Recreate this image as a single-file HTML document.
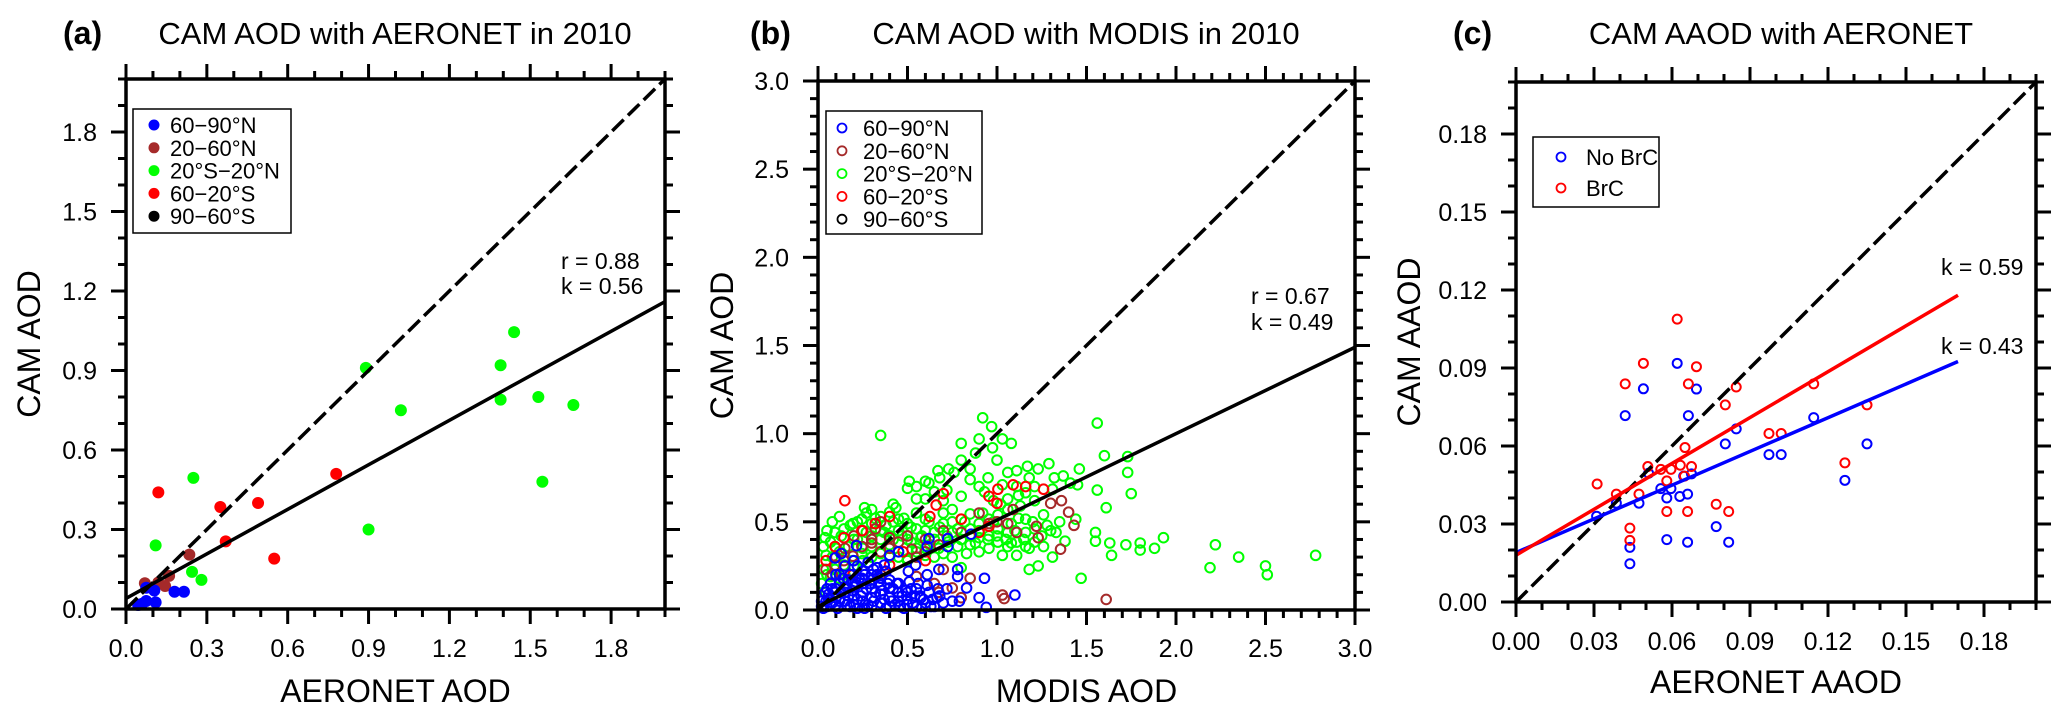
<!DOCTYPE html>
<html><head><meta charset="utf-8"><style>
html,body{margin:0;padding:0;background:#fff;}
svg{display:block;font-family:"Liberation Sans",Arial,sans-serif;}
</style></head><body>
<svg id="root" width="2067" height="720" viewBox="0 0 2067 720" xmlns="http://www.w3.org/2000/svg"></svg>
<script>
// ---------- Panel (a) data ----------
const aBlueX=[0.18,0.215,0.105,0.075,0.11,0.075,0.045,0.06];
const aBlueY=[0.065,0.065,0.07,0.08,0.025,0.03,0.015,0.02];
const aBrownX=[0.235,0.16,0.145,0.07,0.12];
const aBrownY=[0.205,0.125,0.087,0.097,0.1];
const aGreenX=[0.89,1.02,1.39,1.44,1.39,1.53,1.66,1.545,0.90,0.25,0.11,0.245,0.28];
const aGreenY=[0.91,0.75,0.92,1.045,0.79,0.80,0.77,0.48,0.30,0.495,0.24,0.14,0.11];
const aRedX=[0.12,0.35,0.49,0.78,0.37,0.55];
const aRedY=[0.44,0.385,0.40,0.51,0.255,0.19];
const aFit=[0.04,1.16]; // y at x=0 and x=2.0
const aTicks=["0.0","0.3","0.6","0.9","1.2","1.5","1.8"];
// ---------- Panel (b) data ----------
const bGreenX=[0.35,0.92,0.97,1.56,1.60,1.73,1.73,1.75,1.56,1.61,1.46,1.45,1.44,1.55,1.55,1.63,1.64,1.72,1.80,1.80,1.88,1.93,2.22,2.19,2.35,2.50,2.51,2.78,1.47,1.23,1.18,1.31,1.38,1.29,1.23,1.17,1.11,1.06,1.03,1.08,1.03,0.975,0.90,0.88,0.80,0.80,0.76,0.73,0.67,0.60,0.51,0.50,0.55,0.60,0.435,0.26,0.12,0.04,0.03,0.85,0.93,0.80,1.31,1.32,1.37,1.41,1.21,1.13,1.06,1.08,1.16,1.21,1.28,1.33,1.16,1.11,1.06,1.005,0.955,0.90,0.85,0.80,0.75,0.70,0.65,0.83,0.80,0.75,0.70,0.65,0.60,0.55,0.50,0.45,0.40,0.35,0.30,0.245,0.195,0.145,0.095,0.07,0.045,0.03,0.02,0.12,0.17,0.22,0.27,0.32,0.37,0.42,0.47,0.52,0.575,0.625,0.675,0.725,0.78,0.85,0.90,0.955,1.005,1.06,0.90,0.85,0.955,1.005,1.06,1.11,1.16,1.21,1.26,1.21,1.26,1.16,1.11,1.03,0.60,0.55,0.50,0.45,0.40,0.35,0.30,0.245,0.195,0.145,0.095,0.07,0.12,0.045,
0.05,0.08,0.1,0.13,0.15,0.18,0.2,0.22,0.25,0.27,0.3,0.32,0.35,0.38,0.4,0.42,0.45,0.48,0.5,0.52,0.55,0.58,0.6,0.62,0.65,0.68,0.7,0.72,0.75,0.78,0.8,0.82,0.85,0.88,0.9,0.92,0.95,0.98,1.0,1.02,1.05,1.08,1.1,1.12,1.15,1.18,1.2,1.25,1.3,1.35,0.15,0.2,0.25,0.3,0.35,0.4,0.45,0.5,0.55,0.6,0.65,0.7,0.75,0.1,0.05,0.08,0.3,0.42,0.62,0.55,0.68,0.72,0.85,0.95,1.0,0.9,0.98,1.12,1.18];
const bGreenY=[0.99,1.09,1.04,1.06,0.875,0.87,0.78,0.66,0.68,0.58,0.80,0.71,0.515,0.44,0.39,0.38,0.31,0.37,0.38,0.34,0.35,0.41,0.37,0.24,0.30,0.25,0.20,0.31,0.18,0.25,0.23,0.30,0.39,0.83,0.80,0.815,0.79,0.78,0.71,0.945,0.97,0.92,0.97,0.89,0.945,0.85,0.78,0.80,0.79,0.73,0.73,0.69,0.63,0.63,0.58,0.58,0.53,0.41,0.36,0.74,0.67,0.645,0.685,0.75,0.76,0.72,0.62,0.59,0.57,0.49,0.515,0.46,0.48,0.44,0.44,0.385,0.36,0.385,0.35,0.41,0.46,0.515,0.57,0.62,0.67,0.32,0.24,0.44,0.49,0.44,0.515,0.46,0.49,0.515,0.555,0.53,0.49,0.515,0.49,0.46,0.44,0.385,0.31,0.23,0.15,0.33,0.36,0.40,0.44,0.46,0.44,0.40,0.42,0.385,0.41,0.37,0.35,0.385,0.36,0.37,0.33,0.42,0.46,0.44,0.49,0.545,0.515,0.54,0.63,0.70,0.665,0.70,0.54,0.385,0.36,0.36,0.31,0.31,0.31,0.33,0.29,0.33,0.37,0.40,0.36,0.32,0.28,0.255,0.23,0.19,0.18,0.10,
0.45,0.5,0.35,0.42,0.3,0.48,0.4,0.5,0.35,0.55,0.42,0.52,0.45,0.48,0.42,0.5,0.45,0.52,0.4,0.47,0.55,0.42,0.45,0.5,0.4,0.47,0.55,0.42,0.5,0.46,0.4,0.5,0.42,0.38,0.45,0.55,0.4,0.5,0.42,0.6,0.4,0.38,0.45,0.52,0.4,0.35,0.5,0.42,0.45,0.5,0.2,0.25,0.28,0.3,0.32,0.3,0.3,0.28,0.35,0.35,0.3,0.32,0.3,0.25,0.2,0.3,0.57,0.6,0.72,0.7,0.75,0.68,0.8,0.75,0.85,0.7,0.62,0.65,0.75];
const bBrownX=[1.36,1.40,1.43,1.355,1.30,1.22,1.23,1.09,1.06,1.11,1.61,1.03,1.04,0.955,0.80,0.675,0.60,0.525,0.45,0.40,0.35,0.32,0.30,0.245,0.195,0.145,0.095,0.045,0.70,0.75,0.65,0.55,0.45,0.35,0.85,0.80,0.675,0.1,0.2,0.25,0.3,0.4,0.5,0.55,0.6,0.7,0.9,1.0,0.35,0.15,0.08];
const bBrownY=[0.62,0.555,0.48,0.345,0.605,0.475,0.41,0.57,0.49,0.44,0.06,0.085,0.065,0.49,0.44,0.37,0.33,0.345,0.385,0.41,0.33,0.46,0.40,0.36,0.305,0.28,0.255,0.23,0.23,0.125,0.15,0.19,0.15,0.20,0.18,0.07,0.10,0.3,0.42,0.45,0.38,0.35,0.42,0.3,0.4,0.45,0.55,0.5,0.5,0.35,0.2];
const bRedX=[0.15,1.26,1.16,1.09,1.005,1.00,0.955,0.70,0.66,0.625,0.955,0.90,0.80,0.40,0.32,0.245,0.145,0.095,0.475,0.60,0.40,0.045,0.195];
const bRedY=[0.62,0.685,0.70,0.71,0.685,0.605,0.645,0.66,0.595,0.53,0.475,0.44,0.515,0.53,0.49,0.45,0.41,0.36,0.33,0.28,0.255,0.28,0.20];
const bBlueX=[0.855,0.725,0.62,0.725,0.61,0.545,0.505,0.40,0.45,0.37,0.215,0.13,0.095,0.93,0.90,0.94,1.10,0.83,0.78,0.78,0.675,0.61,0.75,0.79,0.665,0.575,0.50,0.45,0.40,0.35,0.30,0.245,0.195,0.145,0.095,0.045,0.05,0.1,0.1,0.15,0.15,0.2,0.2,0.2,0.25,0.25,0.25,0.25,0.3,0.3,0.3,0.3,0.35,0.35,0.35,0.4,0.4,0.4,0.45,0.45,0.5,0.5,0.55,0.55,0.6,0.65,0.7,0.12,0.18,0.22,0.28,0.33,0.38,0.06,0.08,0.12,0.17,0.03,0.22,0.38,0.48,0.58,
0.02,0.04,0.07,0.1,0.12,0.14,0.17,0.18,0.22,0.23,0.27,0.28,0.32,0.33,0.37,0.42,0.43,0.47,0.52,0.53,0.57,0.62,0.63,0.68,0.72,0.05,0.08,0.13,0.16,0.19,0.24,0.26,0.29,0.31,0.34,0.36,0.39,0.41,0.44,0.46,0.49,0.51,0.54,0.56,0.59,0.61,0.64,0.67,0.02,0.06,0.11,0.16,0.21,0.26,0.31,0.15,0.1,0.2];
const bBlueY=[0.43,0.405,0.405,0.36,0.36,0.255,0.22,0.31,0.33,0.255,0.365,0.32,0.295,0.18,0.07,0.015,0.085,0.125,0.19,0.23,0.23,0.20,0.05,0.05,0.07,0.07,0.10,0.15,0.125,0.18,0.20,0.18,0.15,0.125,0.10,0.05,0.02,0.03,0.07,0.05,0.1,0.03,0.08,0.13,0.05,0.1,0.15,0.22,0.02,0.07,0.12,0.17,0.04,0.09,0.14,0.02,0.07,0.17,0.05,0.1,0.03,0.06,0.02,0.12,0.04,0.02,0.04,0.2,0.2,0.25,0.27,0.24,0.22,0.06,0.12,0.15,0.17,0.01,0.01,0.01,0.01,0.01,
0.05,0.1,0.15,0.12,0.05,0.18,0.08,0.02,0.06,0.18,0.12,0.03,0.1,0.2,0.06,0.12,0.03,0.08,0.12,0.04,0.08,0.1,0.02,0.08,0.12,0.12,0.04,0.1,0.13,0.11,0.08,0.2,0.15,0.05,0.16,0.11,0.15,0.05,0.15,0.02,0.11,0.16,0.08,0.15,0.06,0.14,0.06,0.12,0.02,0.09,0.01,0.03,0.16,0.01,0.23,0.25,0.2,0.28];
const bFit=[0.02,1.49]; // y at x=0 and x=3.0
const bTicks=["0.0","0.5","1.0","1.5","2.0","2.5","3.0"];
// ---------- Panel (c) data ----------
const cNoX=[0.031,0.0386,0.0473,0.042,0.049,0.062,0.0694,0.0663,0.0805,0.0847,0.0973,0.102,0.1145,0.135,0.1265,0.051,0.0557,0.0596,0.058,0.063,0.066,0.0645,0.0675,0.058,0.066,0.077,0.0818,0.0438,0.0438];
const cNoY=[0.033,0.038,0.038,0.0717,0.082,0.0918,0.0819,0.0717,0.0608,0.0666,0.0567,0.0567,0.0709,0.0608,0.0468,0.0495,0.0436,0.0436,0.040,0.0406,0.0415,0.0484,0.0493,0.024,0.023,0.029,0.023,0.021,0.0147];
const cBrX=[0.0312,0.0386,0.0473,0.042,0.049,0.062,0.0694,0.0663,0.0805,0.0847,0.0973,0.102,0.1145,0.135,0.1265,0.0507,0.0557,0.0596,0.058,0.0632,0.0675,0.065,0.0648,0.058,0.066,0.077,0.0818,0.0438,0.0438];
const cBrY=[0.0454,0.0415,0.0415,0.0839,0.0918,0.1088,0.0905,0.0839,0.0758,0.0827,0.0648,0.0648,0.0839,0.0758,0.0535,0.0521,0.051,0.051,0.0466,0.0526,0.0521,0.0594,0.0484,0.0348,0.0348,0.0376,0.0348,0.0284,0.0237];
const cFitNo=[0.019,0.0925]; // y at x=0 and x=0.17
const cFitBr=[0.018,0.118];
const cTicks=["0.00","0.03","0.06","0.09","0.12","0.15","0.18"];

const NS="http://www.w3.org/2000/svg";
const root=document.getElementById('root');
function mk(tag,attrs,parent){const e=document.createElementNS(NS,tag);for(const k in attrs)e.setAttribute(k,attrs[k]);(parent||root).appendChild(e);return e;}
function txt(s,attrs,parent){const e=mk('text',attrs,parent);e.textContent=s;return e;}

function panel(P){
  const g=mk('g',{});
  
  
  const sx=v=>P.x0+(v-0)/P.max*(P.x1-P.x0);
  const sy=v=>P.y1-(v-0)/P.max*(P.y1-P.y0);
  const tg=mk('g',{stroke:'#000','stroke-width':3},g);
  
  
  const nMinor=Math.round(P.max/P.minor);
  for(let i=0;i<=nMinor;i++){
    const v=i*P.minor; const major=(i%P.per===0); const L=major?15:8;
    const X=sx(v), Y=sy(v);
    mk('line',{x1:X,x2:X,y1:P.y1,y2:P.y1+L},tg);
    mk('line',{x1:X,x2:X,y1:P.y0,y2:P.y0-L},tg);
    mk('line',{x1:P.x0,x2:P.x0-L,y1:Y,y2:Y},tg);
    mk('line',{x1:P.x1,x2:P.x1+L,y1:Y,y2:Y},tg);
  }
  P.ticks.forEach((t,i)=>{
    const v=i*P.minor*P.per;
    const xl=txt(t,{x:sx(v),y:P.tickBase,'font-size':25,'text-anchor':'middle'},g);
    
    
    const yl=txt(t,{x:P.x0-29,y:sy(v)+9,'font-size':25,'text-anchor':'end'},g);
    
    
  });
  P.series.forEach(s=>{
    const sg=mk('g',{},g);
    
    
    s.xs.forEach((xv,i)=>{
      const c=s.filled?mk('circle',{cx:sx(xv),cy:sy(s.ys[i]),r:6,fill:s.color},sg)
        :mk('circle',{cx:sx(xv),cy:sy(s.ys[i]),r:P.r,fill:'none',stroke:s.color,'stroke-width':2},sg);
      
      
    });
  });
  const d=mk('line',{x1:sx(0),y1:sy(0),x2:sx(P.max),y2:sy(P.max),stroke:'#000','stroke-width':3.5,'stroke-dasharray':'16 6'},g);
  
  
  P.fits.forEach(f=>{
    const l=mk('line',{x1:sx(0),y1:sy(f.y[0]),x2:sx(f.xe),y2:sy(f.y[1]),stroke:f.color,'stroke-width':3.5},g);
    
    
  });
  const fr=mk('rect',{x:P.x0,y:P.y0,width:P.x1-P.x0,height:P.y1-P.y0,fill:'none',stroke:'#000','stroke-width':3.5},g);
  
  
  const lab=txt(P.label,{x:P.labX,y:44,'font-size':32,'font-weight':'bold'},g);
  
  
  const ti=txt(P.title,{x:P.titleX,y:44,'font-size':31,'text-anchor':'middle'},g);
  
  
  const xt=txt(P.xtitle,{x:(P.x0+P.x1)/2,y:P.xtBase,'font-size':32,'text-anchor':'middle'},g);
  
  
  const cy=(P.y0+P.y1)/2;
  const yt=txt(P.ytitle,{x:P.ytX,y:cy,'font-size':32,'text-anchor':'middle',transform:`rotate(-90 ${P.ytX} ${cy})`},g);
  
  
  const L=P.legend;
  const lg=mk('g',{},g);
  
  
  mk('rect',{x:L.x,y:L.y,width:L.w,height:L.h,fill:'#fff',stroke:'#000','stroke-width':1.5},lg);
  L.items.forEach((it,i)=>{
    const ey=L.first+i*L.step;
    const eg=mk('g',{},lg);
    
    
    if(it.filled) mk('circle',{cx:L.mx,cy:ey,r:5.5,fill:it.color},eg);
    else mk('circle',{cx:L.mx,cy:ey,r:4.5,fill:'none',stroke:it.color,'stroke-width':1.8},eg);
    txt(it.text,{x:L.tx,y:ey+8,'font-size':22},eg);
  });
  P.notes.forEach(n=>{
    const t=txt(n.t,{x:n.x,y:n.y,'font-size':23},g);
    
    
  });
}

const regA=["60\u221290\u00b0N","20\u221260\u00b0N","20\u00b0S\u221220\u00b0N","60\u221220\u00b0S","90\u221260\u00b0S"];
panel({name:'panel-a',x0:126,x1:665,y0:79,y1:609,max:2.0,minor:0.1,per:3,ticks:aTicks,tickBase:657,xtBase:702,ytX:40,r:4,
  label:'(a)',labX:63,title:'CAM AOD with AERONET in 2010',titleX:395,xtitle:'AERONET AOD',ytitle:'CAM AOD',
  series:[{name:'series-20-60N',color:'#a52a2a',filled:true,xs:aBrownX,ys:aBrownY},
          {name:'series-20S-20N',color:'#00ff00',filled:true,xs:aGreenX,ys:aGreenY},
          {name:'series-60-20S',color:'#ff0000',filled:true,xs:aRedX,ys:aRedY},
          {name:'series-60-90N',color:'#0000ff',filled:true,xs:aBlueX,ys:aBlueY}],
  fits:[{name:'regression-line',color:'#000',y:aFit,xe:2.0}],
  legend:{x:133,y:109,w:158,h:124,first:125,step:22.8,mx:154,tx:170,
    items:[{color:'#0000ff',filled:true,text:regA[0]},{color:'#a52a2a',filled:true,text:regA[1]},{color:'#00ff00',filled:true,text:regA[2]},{color:'#ff0000',filled:true,text:regA[3]},{color:'#000',filled:true,text:regA[4]}]},
  notes:[{t:'r = 0.88',x:561,y:269},{t:'k = 0.56',x:561,y:294}]});

panel({name:'panel-b',x0:818,x1:1355,y0:81,y1:610,max:3.0,minor:0.1,per:5,ticks:bTicks,tickBase:657,xtBase:702,ytX:733,r:4.8,
  label:'(b)',labX:750,title:'CAM AOD with MODIS in 2010',titleX:1086,xtitle:'MODIS AOD',ytitle:'CAM AOD',
  series:[{name:'series-20S-20N',color:'#00ff00',filled:false,xs:bGreenX,ys:bGreenY},
          {name:'series-20-60N',color:'#a52a2a',filled:false,xs:bBrownX,ys:bBrownY},
          {name:'series-60-20S',color:'#ff0000',filled:false,xs:bRedX,ys:bRedY},
          {name:'series-60-90N',color:'#0000ff',filled:false,xs:bBlueX,ys:bBlueY}],
  fits:[{name:'regression-line',color:'#000',y:bFit,xe:3.0}],
  legend:{x:826,y:111,w:156,h:123,first:128,step:22.8,mx:842,tx:863,
    items:[{color:'#0000ff',text:regA[0]},{color:'#a52a2a',text:regA[1]},{color:'#00ff00',text:regA[2]},{color:'#ff0000',text:regA[3]},{color:'#000',text:regA[4]}]},
  notes:[{t:'r = 0.67',x:1251,y:304},{t:'k = 0.49',x:1251,y:330}]});

panel({name:'panel-c',x0:1516,x1:2036,y0:82,y1:602,max:0.2,minor:0.01,per:3,ticks:cTicks,tickBase:650,xtBase:693,ytX:1420,r:4.5,
  label:'(c)',labX:1453,title:'CAM AAOD with AERONET',titleX:1781,xtitle:'AERONET AAOD',ytitle:'CAM AAOD',
  series:[{name:'series-no-brc',color:'#0000ff',filled:false,xs:cNoX,ys:cNoY},
          {name:'series-brc',color:'#ff0000',filled:false,xs:cBrX,ys:cBrY}],
  fits:[{name:'regression-no-brc',color:'#0000ff',y:cFitNo,xe:0.17},{name:'regression-brc',color:'#ff0000',y:cFitBr,xe:0.17}],
  legend:{x:1533,y:137,w:126,h:70,first:157,step:31,mx:1561,tx:1586,
    items:[{color:'#0000ff',text:'No BrC'},{color:'#ff0000',text:'BrC'}]},
  notes:[{t:'k = 0.59',x:1941,y:275},{t:'k = 0.43',x:1941,y:354}]});
</script>
</body></html>
